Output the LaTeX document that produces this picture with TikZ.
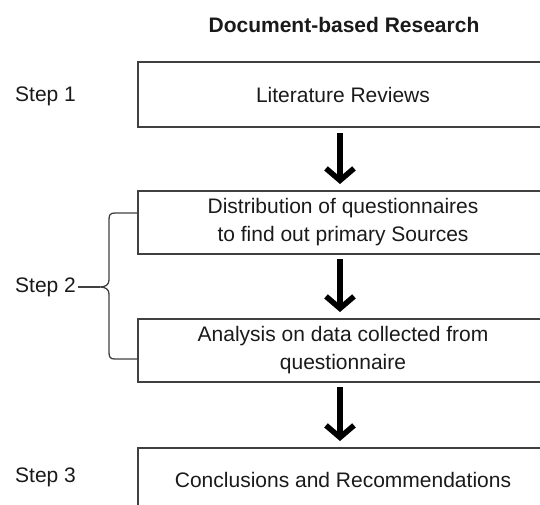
\documentclass[tikz,border=0pt]{standalone}
\usepackage{fontspec}
\setmainfont{Liberation Sans}
\usetikzlibrary{arrows.meta}
\definecolor{boxline}{HTML}{404040}
\definecolor{txt}{HTML}{1A1A1A}
\tikzset{
  stepbox/.style={draw=boxline, line width=2pt, minimum width=410pt, inner sep=0pt,
    align=center, font=\fontsize{21}{28}\selectfont, text=txt},
  steplabel/.style={anchor=west, inner sep=0pt, font=\fontsize{21}{24}\selectfont, text=txt},
  bigarrow/.style={line width=5.5pt, -{Straight Barb[length=12pt,width=28pt]}},
  bracket/.style={draw=boxline, line width=1.3pt}
}
\begin{document}
\begin{tikzpicture}[x=1pt,y=-1pt]
\useasboundingbox (0,0) rectangle (540,504);
\clip (0,0) rectangle (540,504);

\node[font=\bfseries\fontsize{21}{25}\selectfont, text=txt] (title) at (344,25) {Document-based Research};

\node[stepbox, minimum height=65pt] (lit) at (343,94.5) {Literature Reviews};
\node[stepbox, minimum height=63pt] (dist) at (343,222.5) {Distribution of questionnaires\\to find out primary Sources};
\node[stepbox, minimum height=63pt] (anal) at (343,350.5) {Analysis on data collected from\\questionnaire};
\node[stepbox, minimum height=64pt] (conc) at (343,480) {Conclusions and Recommendations};

\node[steplabel] (s1) at (15,96) {Step 1};
\node[steplabel] (s2) at (15,287) {Step 2};
\node[steplabel] (s3) at (15,477) {Step 3};

% arrows between the stages
\draw[bigarrow] ([xshift=-3pt,yshift=-5pt]lit.south) -- ([xshift=-3pt,yshift=6pt]dist.north);
\draw[bigarrow] ([xshift=-3pt,yshift=-4pt]dist.south) -- ([xshift=-3pt,yshift=6pt]anal.north);
\draw[bigarrow] ([xshift=-3pt,yshift=-4pt]anal.south) -- ([xshift=-3pt,yshift=6pt]conc.north);

% bracket grouping the two stages of step 2
\coordinate (tip) at (100,287);
\coordinate (btop) at (dist.west |- 0,213);
\coordinate (bbot) at (anal.west |- 0,359);
\draw[bracket] (btop) -- (115,213) .. controls (110,213) and (109,215) .. (109,220)
  -- (109,280) .. controls (109,285) and (105,287) .. (tip)
  .. controls (105,287) and (109,289) .. (109,294)
  -- (109,352) .. controls (109,357) and (110,359) .. (115,359) -- (bbot);
\draw[bracket] (s2.east) ++(2pt,0) -- (tip);
\end{tikzpicture}
\end{document}
